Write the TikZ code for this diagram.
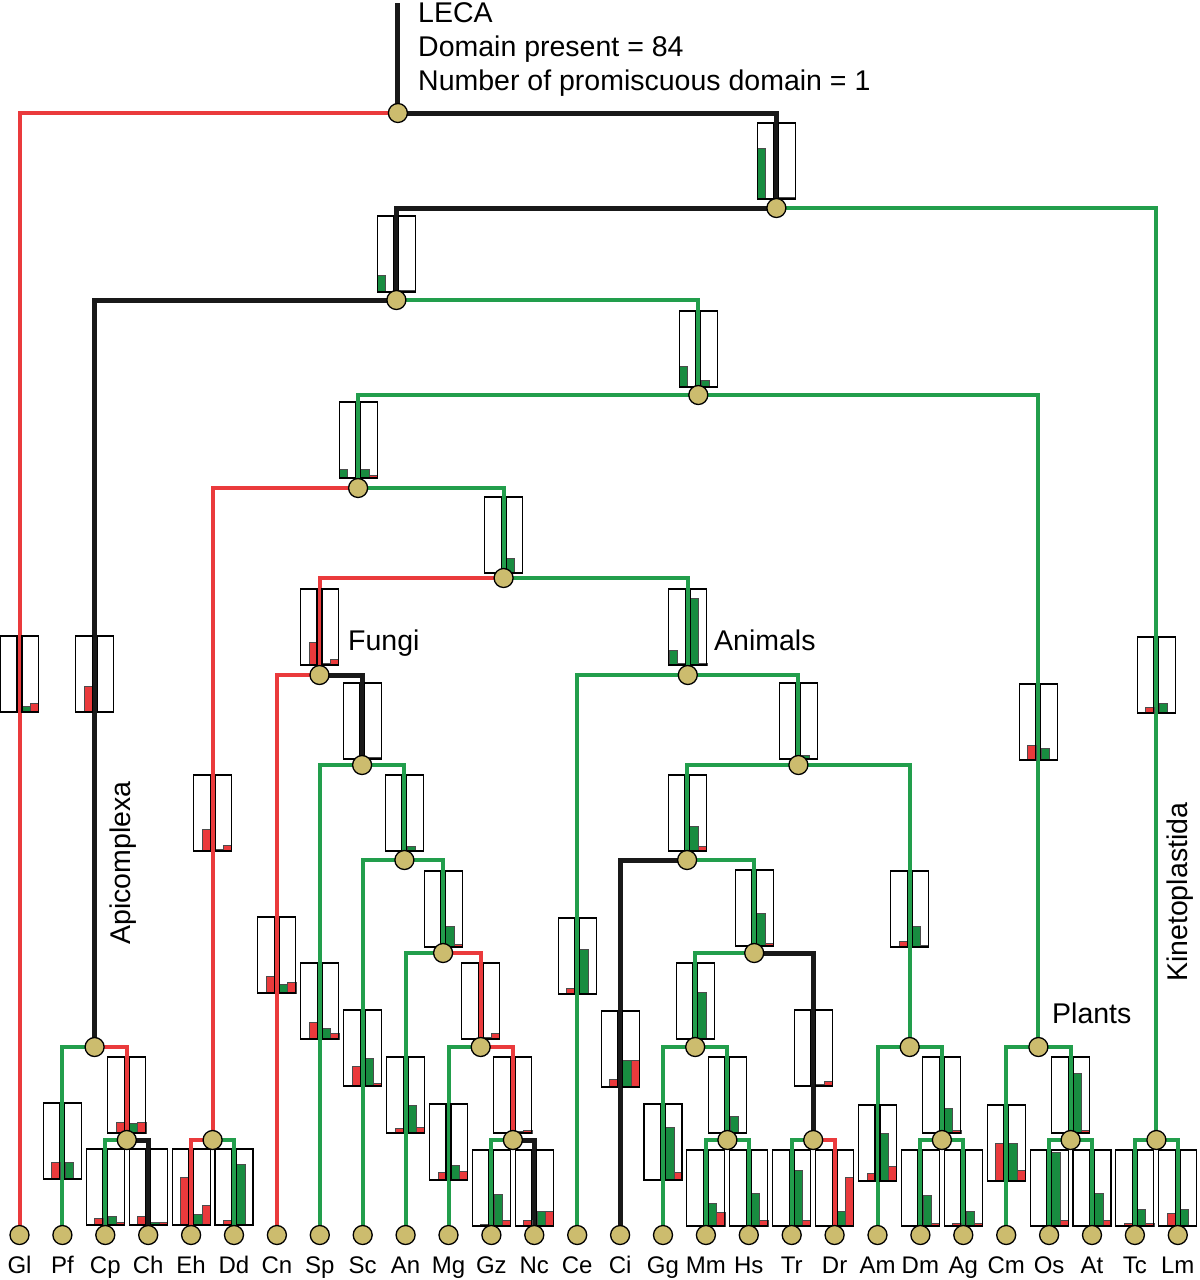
\documentclass[tikz,border=0pt]{standalone}
\usepackage{fontspec}
\setmainfont{Liberation Sans}
\usetikzlibrary{backgrounds}
\definecolor{lossred}{RGB}{234,58,60}
\definecolor{gaingreen}{RGB}{34,158,76}
\definecolor{bargreen}{RGB}{24,140,64}
\definecolor{nodegold}{RGB}{204,188,110}
\tikzset{
taxon/.style={circle, draw=black, line width=1.3bp, fill=nodegold, minimum size=19bp, inner sep=0pt},
gain/.style={draw=gaingreen, line width=4bp},
loss/.style={draw=lossred, line width=4bp},
kept/.style={draw=black!90, line width=5bp},
boxline/.style={draw=black, line width=1.1bp},
gbar/.style={fill=bargreen, draw=black!70, line width=0.5bp},
rbar/.style={fill=lossred, draw=black!70, line width=0.5bp},
leafname/.style={font=\fontsize{24bp}{28bp}\selectfont, inner sep=0pt, anchor=base},
cladename/.style={font=\fontsize{28.5bp}{34bp}\selectfont, inner sep=0pt, anchor=base west}
}
\newcommand{\dombox}[6]{%
\begin{scope}[shift={(#1.center |- 0,#2)}]
\filldraw[gbar] (-19,0) rectangle (-10.75,-#3);
\filldraw[rbar] (-10.75,0) rectangle (-2.5,-#4);
\filldraw[gbar] (2.5,0) rectangle (10.75,-#5);
\filldraw[rbar] (10.75,0) rectangle (19,-#6);
\draw[boxline] (-19,0) rectangle (-2.5,-76);
\draw[boxline] (2.5,0) rectangle (19,-76);
\end{scope}}

\begin{document}
\begin{tikzpicture}[x=1bp, y=-1bp]
\useasboundingbox (0,0) rectangle (1200,1280);

\foreach \n [count=\i from 0] in {Gl,Pf,Cp,Ch,Eh,Dd,Cn,Sp,Sc,An,Mg,Gz,Nc,Ce,Ci,Gg,Mm,Hs,Tr,Dr,Am,Dm,Ag,Cm,Os,At,Tc,Lm}{
\node[taxon] (\n) at ({19.5+42.9*\i},1235) {};
\node[leafname] (\n-name) at ({19.5+42.9*\i},1273) {\n};
}
\foreach \n/\x/\y in {cpch/126.8/1140, ehdd/212.6/1140, gznc/512.9/1140, mmhs/727.4/1140, trdr/813.2/1140,
  dmag/941.9/1140, osat/1070.6/1140, tclm/1156.4/1140, api/94.6/1047, mggz/480.7/1047, ggmm/695.2/1047,
  insect/909.7/1047, plants/1038.4/1047, anmg/443.1/953, vert/754.2/953, scan/404.4/860, cigg/687.1/860,
  spsc/362.1/765, bilat/798.4/765, fungi/319.5/675, animals/687.8/675, opis/503.6/578, uni/358.1/488,
  crown/698.3/395, c2/396.4/300, c3/776.4/208, root/397.9/113}{
\node[taxon] (\n) at (\x,\y) {};
}
\coordinate (stem) at (397.9,3);

\begin{scope}[on background layer]
\draw[kept] (stem) -- (root.center);
\foreach \a/\b/\s in {root/Gl/loss, root/c3/kept, c3/c2/kept, c3/tclm/gain, c2/api/kept, c2/crown/gain,
  crown/uni/gain, crown/plants/gain, uni/ehdd/loss, uni/opis/gain, opis/fungi/loss, opis/animals/gain,
  fungi/Cn/loss, fungi/spsc/kept, spsc/Sp/gain, spsc/scan/gain, scan/Sc/gain, scan/anmg/gain,
  anmg/An/gain, anmg/mggz/loss, mggz/Mg/gain, mggz/gznc/loss, gznc/Gz/gain, gznc/Nc/kept,
  animals/Ce/gain, animals/bilat/gain, bilat/cigg/gain, bilat/insect/gain, cigg/Ci/kept, cigg/vert/gain,
  vert/ggmm/gain, vert/trdr/kept, ggmm/Gg/gain, ggmm/mmhs/gain, mmhs/Mm/gain, mmhs/Hs/gain,
  trdr/Tr/gain, trdr/Dr/loss, insect/Am/gain, insect/dmag/gain, dmag/Dm/gain, dmag/Ag/gain,
  plants/Cm/gain, plants/osat/gain, osat/Os/gain, osat/At/gain, tclm/Tc/gain, tclm/Lm/gain,
  api/Pf/gain, api/cpch/loss, cpch/Cp/gain, cpch/Ch/kept, ehdd/Eh/loss, ehdd/Dd/gain}{
\draw[\s] (\a.center) -| (\b.center);
}

\dombox{c3}{199}{51}{0}{2}{2}
\dombox{c2}{292}{17}{0}{2}{2}
\dombox{crown}{387}{21}{0}{7}{0}
\dombox{uni}{478}{9}{0}{9}{3}
\dombox{opis}{573}{0}{0}{15}{0}
\dombox{ehdd}{851}{0}{22}{2}{6}
\dombox{Gl}{712}{0}{0}{6}{9}
\dombox{api}{712}{0}{26}{0}{0}
\dombox{fungi}{665}{0}{23}{2}{6}
\dombox{spsc}{759}{0}{0}{2}{2}
\dombox{animals}{665}{15}{2}{67}{2}
\dombox{bilat}{759}{0}{0}{4}{0}
\dombox{cigg}{851}{0}{0}{25}{5}
\dombox{insect}{947}{0}{6}{21}{2}
\dombox{plants}{760}{0}{15}{12}{0}
\dombox{tclm}{713}{0}{6}{10}{0}
\dombox{Cn}{993}{0}{17}{9}{11}
\dombox{Sp}{1039}{0}{17}{11}{6}
\dombox{Sc}{1086}{0}{20}{28}{3}
\dombox{An}{1133}{0}{5}{28}{6}
\dombox{anmg}{947}{0}{0}{21}{3}
\dombox{scan}{851}{0}{0}{5}{0}
\dombox{mggz}{1039}{0}{0}{2}{6}
\dombox{gznc}{1133}{0}{0}{2}{3}
\dombox{Mg}{1180}{0}{8}{15}{9}
\dombox{Gz}{1226}{0}{2}{32}{6}
\dombox{Nc}{1226}{0}{6}{15}{15}
\dombox{Ce}{994}{0}{6}{45}{0}
\dombox{Ci}{1087}{0}{8}{27}{27}
\dombox{vert}{946}{0}{0}{33}{3}
\dombox{ggmm}{1039}{0}{0}{47}{0}
\dombox{mmhs}{1133}{0}{0}{17}{0}
\dombox{Gg}{1180}{0}{0}{53}{8}
\dombox{Mm}{1226}{0}{0}{23}{14}
\dombox{Hs}{1226}{0}{0}{33}{6}
\dombox{trdr}{1086}{0}{0}{2}{5}
\dombox{Tr}{1226}{0}{0}{56}{6}
\dombox{Dr}{1226}{0}{0}{15}{49}
\dombox{Am}{1181}{0}{8}{48}{15}
\dombox{dmag}{1133}{0}{0}{25}{3}
\dombox{Dm}{1226}{0}{0}{31}{3}
\dombox{Ag}{1226}{0}{3}{15}{3}
\dombox{Cm}{1181}{0}{38}{38}{11}
\dombox{osat}{1133}{0}{0}{60}{3}
\dombox{Os}{1226}{0}{0}{74}{6}
\dombox{At}{1226}{0}{0}{33}{6}
\dombox{Tc}{1226}{0}{3}{17}{3}
\dombox{Lm}{1226}{0}{13}{17}{0}
\dombox{Pf}{1179}{0}{17}{17}{0}
\dombox{cpch}{1133}{0}{11}{10}{11}
\dombox{Cp}{1225}{0}{7}{9}{3}
\dombox{Ch}{1225}{0}{9}{3}{3}
\dombox{Eh}{1225}{0}{48}{11}{20}
\dombox{Dd}{1225}{0}{5}{61}{0}
\end{scope}

\node[cladename] (leca) at (418,22) {LECA};
\node[cladename] (present) at (418,56) {Domain present = 84};
\node[cladename] (promisc) at (418,90) {Number of promiscuous domain = 1};
\node[cladename] (fungi-name) at (348,650) {Fungi};
\node[cladename] (animals-name) at (714,650) {Animals};
\node[cladename] (plants-name) at (1052,1023) {Plants};
\node[cladename, rotate=90] (api-name) at (130,945) {Apicomplexa};
\node[cladename, rotate=90] (kineto-name) at (1187,982) {Kinetoplastida};
\end{tikzpicture}
\end{document}
